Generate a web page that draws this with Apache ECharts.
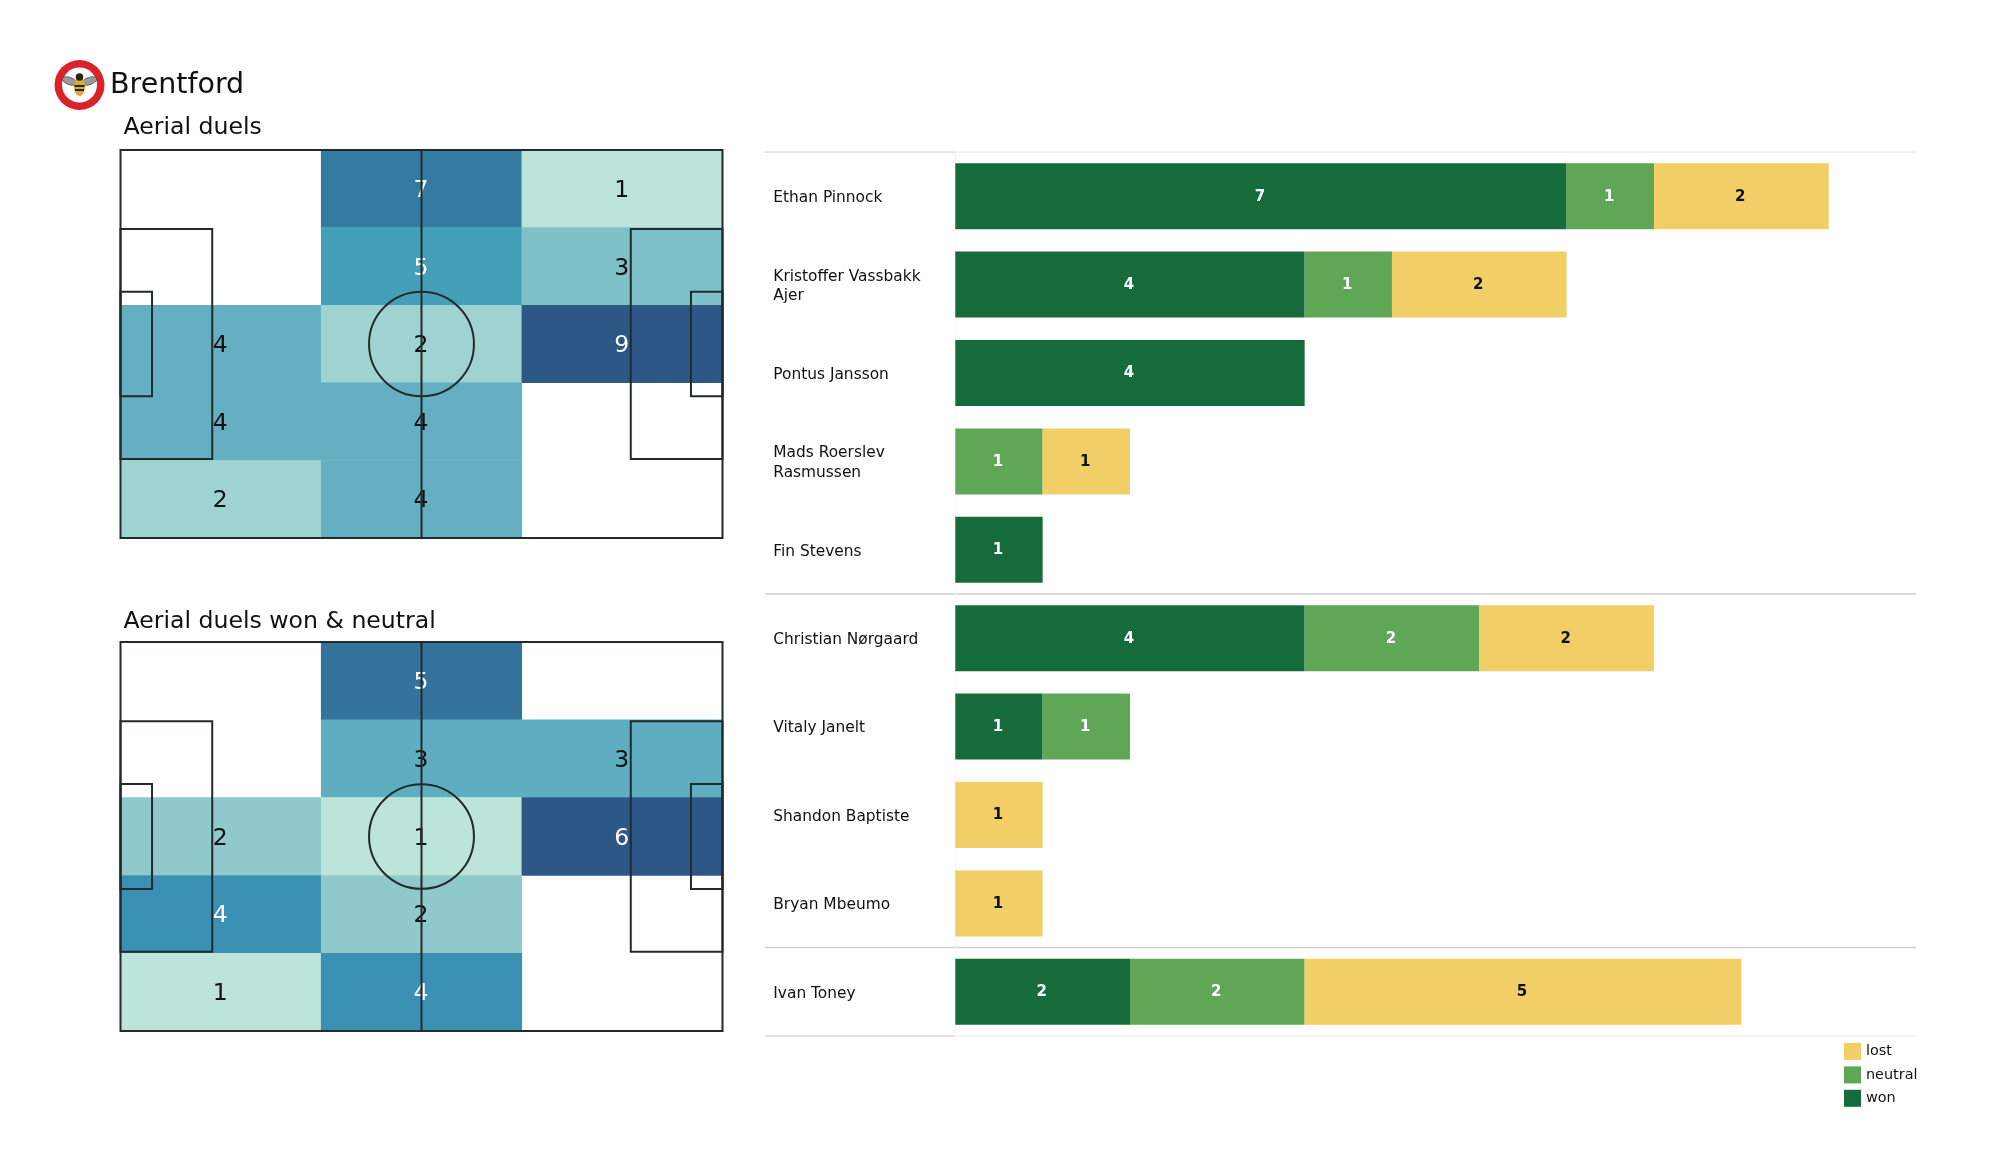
<!DOCTYPE html>
<html>
<head>
<meta charset="utf-8">
<style>html,body{margin:0;padding:0;background:#fff}#c{width:2000px;height:1175px}</style>
<script src="https://cdn.jsdelivr.net/npm/echarts@6/dist/echarts.min.js"></script>
</head>
<body>
<div id="c"></div>
<script>
// ---- data ----
const players = ['Ethan Pinnock','Kristoffer Vassbakk\nAjer','Pontus Jansson','Mads Roerslev\nRasmussen','Fin Stevens','Christian Nørgaard','Vitaly Janelt','Shandon Baptiste','Bryan Mbeumo','Ivan Toney'];
const won     = [7,4,4,0,1,4,1,0,0,2];
const neutral = [1,1,0,1,0,2,1,0,0,2];
const lost    = [2,2,0,1,0,2,0,1,1,5];
const groupEdges = [5,9];
const zoneCols = ['a','b','c'];
const zoneRows = ['r1','r2','r3','r4','r5'];
const duels = [[0,7,1],[0,5,3],[4,2,9],[4,4,0],[2,4,0]];
const duelsWonNeutral = [[0,5,0],[0,3,3],[2,1,6],[4,2,0],[1,4,0]];
const duelsRamp = ['#bce4d9','#9fd3d1','#7fc1c9','#64afc2','#449fb9','#3d8dae','#347ba2','#2f6994','#2c5786'];
const wonNeutralRamp = ['#bce4d9','#8fc9cb','#5eadc1','#3a90b2','#33739c','#2c5786'];
// pitch markings in metres
const pitchW = 105, pitchH = 68;
const pitchRects = [[0,0,105,68],[0,13.84,16,40.32],[0,24.84,5.5,18.32],[89,13.84,16,40.32],[99.5,24.84,5.5,18.32]];
const halfway = 52.5, centreRadius = 9.15;

const FONT = '"DejaVu Sans"';
const GREEN = '#156c3a', MID = '#60a657', YEL = '#f2ce66';

const cells = m => { const o=[]; m.forEach((r,y)=>r.forEach((v,x)=>{ if(v>0) o.push([x,y,v]); })); return o; };
const heat = (gridIndex, matrix, whiteFrom) => ({
  type:'heatmap', xAxisIndex:gridIndex, yAxisIndex:gridIndex, z:2,
  data:cells(matrix).map(d=>({value:d,label:{color:d[2]>=whiteFrom?'#fff':'#111'}})),
  label:{show:true, fontFamily:FONT, fontSize:23.5, offset:[-0.5,2], formatter:p=>p.value[2]},
  itemStyle:{borderWidth:0},
  emphasis:{disabled:true},
  encode:{x:0,y:1}
});
const pitch = gridIndex => ({
  type:'custom', xAxisIndex:gridIndex, yAxisIndex:gridIndex, z:10, silent:true, clip:false,
  data:[[0]],
  renderItem:(params,api)=>{
    const st = {fill:null, stroke:'#222b2c', lineWidth:2};
    const kids = pitchRects.map(r=>{
      const a=api.coord([r[0],r[1]]), b=api.coord([r[0]+r[2],r[1]+r[3]]);
      return {type:'rect',shape:{x:a[0],y:b[1],width:b[0]-a[0],height:a[1]-b[1]},style:st};
    });
    const t=api.coord([halfway,0]), u=api.coord([halfway,pitchH]);
    kids.push({type:'line',shape:{x1:t[0],y1:t[1],x2:u[0],y2:u[1]},style:st});
    const c=api.coord([halfway,pitchH/2]), s=api.size([centreRadius,centreRadius]);
    kids.push({type:'ellipse',shape:{cx:c[0],cy:c[1],rx:s[0],ry:s[1]},style:st});
    return {type:'group',children:kids};
  }
});
const rule = (x0,x1,y,color,w) => ({
  type:'line', xAxisIndex:5, yAxisIndex:5, z:1, silent:true, symbol:'none',
  data:[[x0,y],[x1,y]], lineStyle:{color:color,width:w}
});
const xLeft = -2.18, xRight = 11;
const barSeries = (name,vals,color,labelColor) => ({
  name, type:'bar', stack:'t', xAxisIndex:4, yAxisIndex:4, barWidth:66, z:3,
  data:vals.map(v=>v===0?null:v),
  itemStyle:{color},
  label:{show:true,position:'inside',offset:[-1,0.5],fontFamily:FONT,fontWeight:'bold',fontSize:15,color:labelColor},
  emphasis:{disabled:true}
});

const hiddenCat = (idx,data,extra) => Object.assign({type:'category',gridIndex:idx,data,show:false},extra||{});
const hiddenVal = (idx,min,max,extra) => Object.assign({type:'value',gridIndex:idx,min,max,show:false},extra||{});

const option = {
  animation:false,
  backgroundColor:'#fff',
  textStyle:{fontFamily:FONT},
  title:[
    {text:'Brentford',left:110,top:71,textStyle:{fontFamily:FONT,fontSize:28.5,fontWeight:'normal',color:'#111'},padding:0},
    {text:'Aerial duels',left:123.5,top:116,textStyle:{fontFamily:FONT,fontSize:23.6,fontWeight:'normal',color:'#111'},padding:0},
    {text:'Aerial duels won & neutral',left:123.5,top:610,textStyle:{fontFamily:FONT,fontSize:23.6,fontWeight:'normal',color:'#111'},padding:0}
  ],
  grid:[
    {left:120.5,top:150,width:602,height:388},
    {left:120.5,top:150,width:602,height:388},
    {left:120.5,top:642,width:602,height:389},
    {left:120.5,top:642,width:602,height:389},
    {left:955.3,top:152,width:960.7,height:884},
    {left:765,top:152,width:1151,height:884},
    {left:955.3,top:153.7,width:960.7,height:884}
  ],
  xAxis:[
    hiddenCat(0,zoneCols), hiddenVal(1,0,pitchW), hiddenCat(2,zoneCols), hiddenVal(3,0,pitchW),
    {type:'value',gridIndex:4,min:0,max:11,show:false},
    hiddenVal(5,xLeft,xRight),
    hiddenVal(6,0,11)
  ],
  yAxis:[
    hiddenCat(0,zoneRows,{inverse:true}), hiddenVal(1,0,pitchH), hiddenCat(2,zoneRows,{inverse:true}), hiddenVal(3,0,pitchH),
    hiddenCat(4,players,{inverse:true}),
    hiddenVal(5,0,players.length,{inverse:true}),
    {type:'category',gridIndex:6,inverse:true,data:players,
      axisLine:{show:false},axisTick:{show:false},splitLine:{show:false},
      axisLabel:{align:'left',margin:182,fontFamily:FONT,fontSize:15.4,lineHeight:19.5,color:'#111',interval:0}}
  ],
  visualMap:[
    {type:'continuous',show:false,seriesIndex:0,dimension:2,min:1,max:9,inRange:{color:duelsRamp}},
    {type:'continuous',show:false,seriesIndex:2,dimension:2,min:1,max:6,inRange:{color:wonNeutralRamp}}
  ],
  legend:{
    show:true,orient:'vertical',left:1844,top:1043,itemWidth:17,itemHeight:17,itemGap:6.4,
    selectedMode:false,padding:0,icon:'rect',
    textStyle:{fontFamily:FONT,fontSize:14.4,color:'#111'},
    data:['lost','neutral','won'],
    itemStyle:{borderWidth:0}
  },
  series:[
    heat(0,duels,5), pitch(1), heat(2,duelsWonNeutral,4), pitch(3),
    rule(xLeft,0,0,'#dcdcdc',1.5), rule(0,xRight,0,'#ececec',1.5),
    rule(xLeft,xRight,groupEdges[0],'#cfcfcf',1.5), rule(xLeft,xRight,groupEdges[1],'#cfcfcf',1.5),
    rule(xLeft,0,players.length,'#d4d4d4',1.5), rule(0,xRight,players.length,'#ececec',1.5),
    {type:'line',xAxisIndex:5,yAxisIndex:5,z:1,silent:true,symbol:'none',data:[[0,0],[0,players.length]],lineStyle:{color:'#f3f3f3',width:1}},
    barSeries('won',won,GREEN,'#fff'),
    barSeries('neutral',neutral,MID,'#fff'),
    barSeries('lost',lost,YEL,'#111')
  ],
  graphic:[{
    type:'group',left:54.5,top:60,silent:true,children:[
      {type:'circle',shape:{cx:25,cy:25,r:25},style:{fill:'#d9222a'}},
      {type:'circle',shape:{cx:25,cy:25,r:17.5},style:{fill:'#fff'}},
      {type:'ellipse',shape:{cx:15,cy:21,rx:7.5,ry:3.6},rotation:-0.35,originX:15,originY:21,style:{fill:'#9a9c99',stroke:'#333',lineWidth:0.6}},
      {type:'ellipse',shape:{cx:35,cy:21,rx:7.5,ry:3.6},rotation:0.35,originX:35,originY:21,style:{fill:'#9a9c99',stroke:'#333',lineWidth:0.6}},
      {type:'ellipse',shape:{cx:25,cy:26.5,rx:5.5,ry:9.5},style:{fill:'#d9a93a'}},
      {type:'rect',shape:{x:20,y:25,width:10,height:2},style:{fill:'#2b2318'}},
      {type:'rect',shape:{x:20.5,y:29,width:9,height:2},style:{fill:'#2b2318'}},
      {type:'circle',shape:{cx:25,cy:17,r:3.8},style:{fill:'#2b2318'}}
    ]
  }]
};
const chart = echarts.init(document.getElementById('c'),null,{renderer:'canvas',width:2000,height:1175});
chart.setOption(option);
</script>
</body>
</html>
